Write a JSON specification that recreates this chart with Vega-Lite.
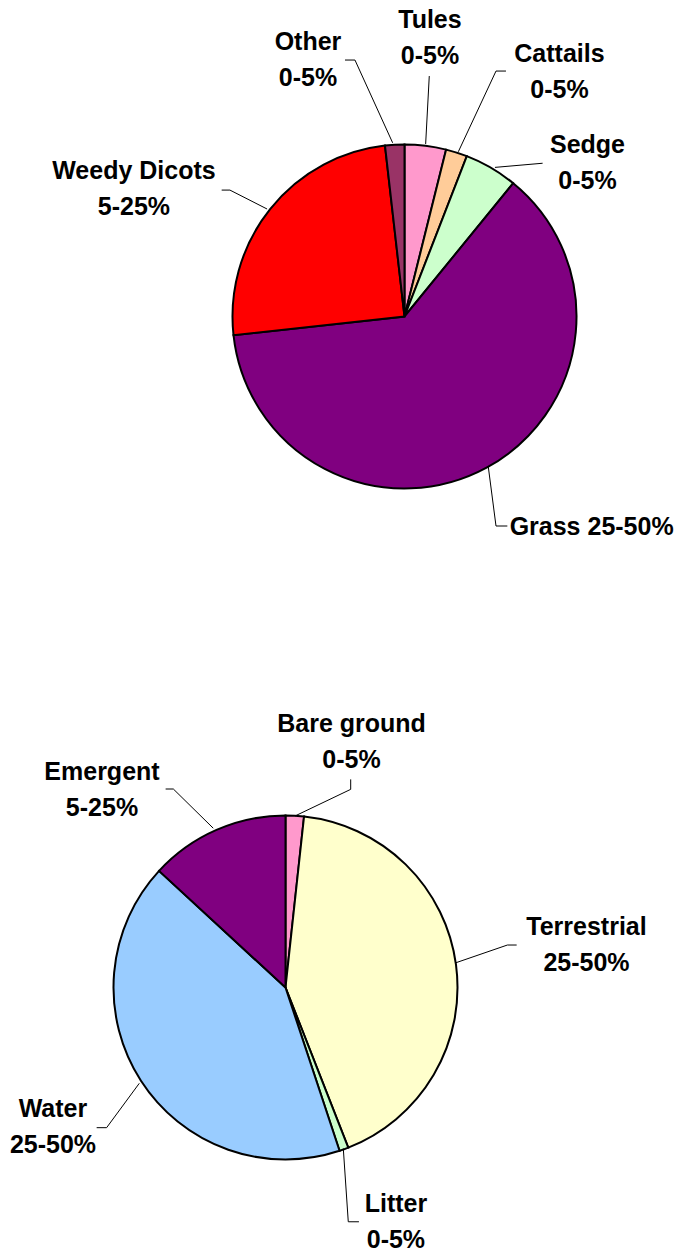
{
  "$schema": "https://vega.github.io/schema/vega-lite/v6.json",
  "padding": 0,
  "spacing": 0,
  "background": "white",
  "config": {"view": {"stroke": null}},
  "resolve": {"scale": {"color": "independent", "x": "independent", "y": "independent"}},
  "datasets": {
    "cover": [
      {"cat": "Tules", "value": 3.89, "i": 1},
      {"cat": "Cattails", "value": 2.01, "i": 2},
      {"cat": "Sedge", "value": 4.99, "i": 3},
      {"cat": "Grass", "value": 62.39, "i": 4},
      {"cat": "Weedy Dicots", "value": 24.92, "i": 5},
      {"cat": "Other", "value": 1.81, "i": 6}
    ],
    "coverLabels": [
      {"cat": "Tules", "text": "Tules\n0-5%", "lx": 14.8, "ly": 167.7},
      {"cat": "Other", "text": "Other\n0-5%", "lx": -56.1, "ly": 154.9},
      {"cat": "Cattails", "text": "Cattails\n0-5%", "lx": 90.1, "ly": 148.1},
      {"cat": "Sedge", "text": "Sedge\n0-5%", "lx": 106.4, "ly": 95.1},
      {"cat": "Weedy Dicots", "text": "Weedy Dicots\n5-25%", "lx": -157.3, "ly": 79.9},
      {"cat": "Grass", "text": "Grass 25-50%", "lx": 108.8, "ly": -127.0}
    ],
    "coverLeaders": [
      {"cat": "Tules", "k": 1, "px": 14.4, "py": 139.8},
      {"cat": "Tules", "k": 2, "px": 12.3, "py": 100.3},
      {"cat": "Other", "k": 1, "px": -34.6, "py": 149.1},
      {"cat": "Other", "k": 2, "px": -28.8, "py": 149.1},
      {"cat": "Other", "k": 3, "px": -6.9, "py": 101.0},
      {"cat": "Cattails", "k": 1, "px": 59.0, "py": 142.7},
      {"cat": "Cattails", "k": 2, "px": 53.2, "py": 142.7},
      {"cat": "Cattails", "k": 3, "px": 31.3, "py": 95.8},
      {"cat": "Sedge", "k": 1, "px": 80.3, "py": 89.1},
      {"cat": "Sedge", "k": 2, "px": 52.6, "py": 86.7},
      {"cat": "Weedy Dicots", "k": 1, "px": -106.3, "py": 73.5},
      {"cat": "Weedy Dicots", "k": 2, "px": -101.5, "py": 73.5},
      {"cat": "Weedy Dicots", "k": 3, "px": -79.9, "py": 62.5},
      {"cat": "Grass", "k": 1, "px": 48.7, "py": -87.3},
      {"cat": "Grass", "k": 2, "px": 53.2, "py": -121.8},
      {"cat": "Grass", "k": 3, "px": 59.8, "py": -121.8}
    ],
    "habitat": [
      {"cat": "Bare ground", "value": 1.72, "i": 1},
      {"cat": "Terrestrial", "value": 42.33, "i": 2},
      {"cat": "Litter", "value": 0.86, "i": 3},
      {"cat": "Water", "value": 41.94, "i": 4},
      {"cat": "Emergent", "value": 13.14, "i": 5}
    ],
    "habitatLabels": [
      {"cat": "Bare ground", "text": "Bare ground\n0-5%", "lx": 38.4, "ly": 148.7},
      {"cat": "Emergent", "text": "Emergent\n5-25%", "lx": -106.7, "ly": 120.6},
      {"cat": "Terrestrial", "text": "Terrestrial\n25-50%", "lx": 175.0, "ly": 30.5},
      {"cat": "Litter", "text": "Litter\n0-5%", "lx": 64.2, "ly": -130.3},
      {"cat": "Water", "text": "Water\n25-50%", "lx": -135.2, "ly": -75.1}
    ],
    "habitatLeaders": [
      {"cat": "Bare ground", "k": 1, "px": 37.9, "py": 121.0},
      {"cat": "Bare ground", "k": 2, "px": 37.9, "py": 115.2},
      {"cat": "Bare ground", "k": 3, "px": 5.5, "py": 99.7},
      {"cat": "Emergent", "k": 1, "px": -69.7, "py": 115.4},
      {"cat": "Emergent", "k": 2, "px": -65.2, "py": 115.4},
      {"cat": "Emergent", "k": 3, "px": -42.0, "py": 92.6},
      {"cat": "Terrestrial", "k": 1, "px": 134.4, "py": 24.7},
      {"cat": "Terrestrial", "k": 2, "px": 129.0, "py": 24.7},
      {"cat": "Terrestrial", "k": 3, "px": 99.1, "py": 14.4},
      {"cat": "Litter", "k": 1, "px": 33.6, "py": -93.5},
      {"cat": "Litter", "k": 2, "px": 36.5, "py": -136.2},
      {"cat": "Litter", "k": 3, "px": 42.7, "py": -136.2},
      {"cat": "Water", "k": 1, "px": -109.8, "py": -81.5},
      {"cat": "Water", "k": 2, "px": -104.0, "py": -81.5},
      {"cat": "Water", "k": 3, "px": -85.0, "py": -55.7}
    ]
  },
  "vconcat": [
    {
      "width": 679,
      "height": 627,
      "layer": [
        {
          "data": {"name": "cover"},
          "mark": {"type": "arc", "outerRadius": 172, "stroke": "black", "strokeWidth": 2},
          "encoding": {
            "x": {"datum": 0, "type": "quantitative", "scale": {"domain": [-235.17, 159.59], "nice": false, "zero": false}, "axis": null},
            "y": {"datum": 0, "type": "quantitative", "scale": {"domain": [-180.52, 184.01], "nice": false, "zero": false}, "axis": null},
            "theta": {"field": "value", "type": "quantitative", "stack": true},
            "order": {"field": "i", "type": "quantitative"},
            "color": {"field": "cat", "type": "nominal", "legend": null,
              "scale": {"domain": ["Tules", "Cattails", "Sedge", "Grass", "Weedy Dicots", "Other"],
                        "range": ["#FF99CC", "#FFCC99", "#CCFFCC", "#800080", "#FF0000", "#993366"]}}
          }
        },
        {
          "data": {"name": "coverLeaders"},
          "mark": {"type": "line", "stroke": "black", "strokeWidth": 1},
          "encoding": {
            "x": {"field": "px", "type": "quantitative"},
            "y": {"field": "py", "type": "quantitative"},
            "detail": {"field": "cat"},
            "order": {"field": "k", "type": "quantitative"}
          }
        },
        {
          "data": {"name": "coverLabels"},
          "mark": {"type": "text", "font": "Liberation Sans", "fontWeight": "bold", "fontSize": 25, "lineBreak": "\n", "lineHeight": 36, "align": "center", "baseline": "alphabetic", "color": "black"},
          "encoding": {
            "x": {"field": "lx", "type": "quantitative"},
            "y": {"field": "ly", "type": "quantitative"},
            "text": {"field": "text"}
          }
        }
      ]
    },
    {
      "width": 679,
      "height": 628,
      "layer": [
        {
          "data": {"name": "habitat"},
          "mark": {"type": "arc", "outerRadius": 172, "stroke": "black", "strokeWidth": 2},
          "encoding": {
            "x": {"datum": 0, "type": "quantitative", "scale": {"domain": [-165.99, 228.78], "nice": false, "zero": false}, "axis": null},
            "y": {"datum": 0, "type": "quantitative", "scale": {"domain": [-155.52, 209.59], "nice": false, "zero": false}, "axis": null},
            "theta": {"field": "value", "type": "quantitative", "stack": true},
            "order": {"field": "i", "type": "quantitative"},
            "color": {"field": "cat", "type": "nominal", "legend": null,
              "scale": {"domain": ["Bare ground", "Terrestrial", "Litter", "Water", "Emergent"],
                        "range": ["#FF99CC", "#FFFFCC", "#CCFFCC", "#99CCFF", "#800080"]}}
          }
        },
        {
          "data": {"name": "habitatLeaders"},
          "mark": {"type": "line", "stroke": "black", "strokeWidth": 1},
          "encoding": {
            "x": {"field": "px", "type": "quantitative"},
            "y": {"field": "py", "type": "quantitative"},
            "detail": {"field": "cat"},
            "order": {"field": "k", "type": "quantitative"}
          }
        },
        {
          "data": {"name": "habitatLabels"},
          "mark": {"type": "text", "font": "Liberation Sans", "fontWeight": "bold", "fontSize": 25, "lineBreak": "\n", "lineHeight": 36, "align": "center", "baseline": "alphabetic", "color": "black"},
          "encoding": {
            "x": {"field": "lx", "type": "quantitative"},
            "y": {"field": "ly", "type": "quantitative"},
            "text": {"field": "text"}
          }
        }
      ]
    }
  ]
}
